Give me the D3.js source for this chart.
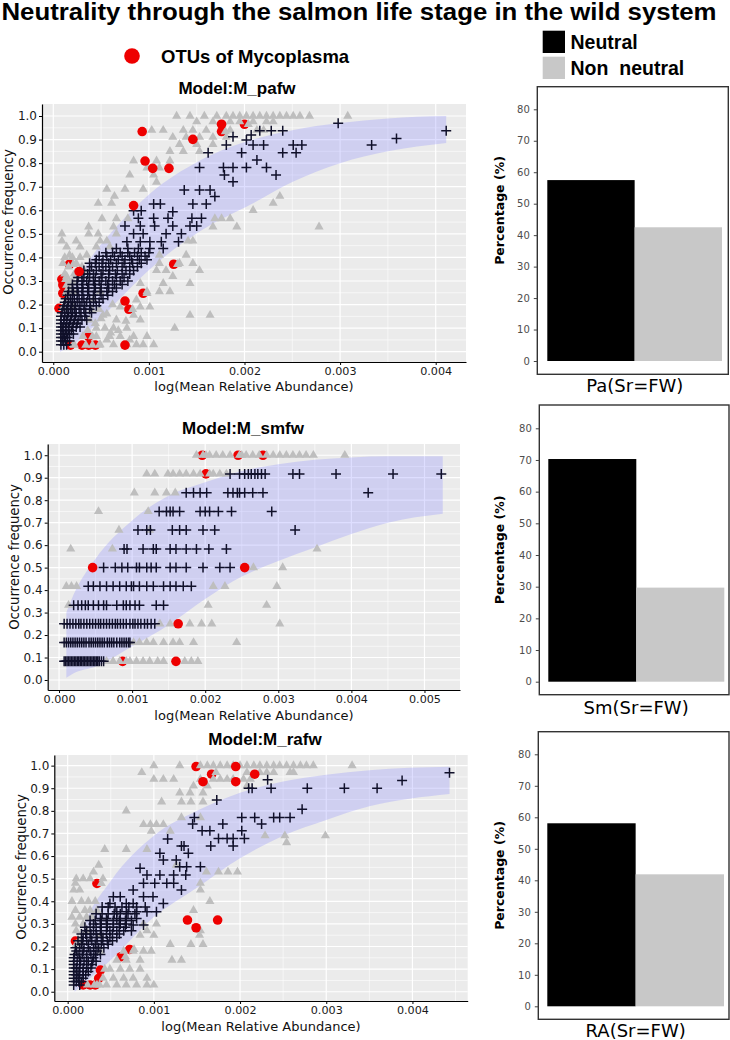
<!DOCTYPE html>
<html><head><meta charset="utf-8">
<script src="https://cdn.jsdelivr.net/npm/d3@7"></script>
<style>body{margin:0;background:#fff}svg{display:block}</style>
</head><body>
<script>
// ---------------- DATA ----------------
// x values are mean relative abundance in units of 1e-5, y = occurrence frequency
const X_UNIT = 1e-5;

// Model M_pafw
const pafwNonNeutral = [
 [129,1],[143,1],[158,1],[171,1],[181,1],[188,1],[195,1],[202,1],[209,1],[216,1],[223,1],[230,1],[237,1],[244,1],[251,1],[258,1],[268,1],[308,1],
 [150,.976],[167,.976],[185,.976],[195,.976],[209,.976],[223,.976],[230,.976],
 [103,.94],[115,.94],[136,.94],[146,.94],[160,.94],[185,.94],[213,.94],[220,.94],
 [125,.91],[139,.91],[153,.91],[167,.91],[181,.91],[132,.88],[150,.88],[167,.88],
 [122,.85],[136,.85],[153,.85],[84,.81],[108,.81],[122,.81],[98,.78],[111,.78],[80,.75],[105,.75],[108,.72],
 [56,.69],[75,.69],[94,.69],[64,.66],[237,.66],[47,.63],[61,.63],[230,.63],[209,.60],
 [51,.565],[66,.565],[78,.565],[169,.565],[176,.565],[185,.565],[37,.53],[63,.53],[167,.53],[192,.53],[278,.53],
 [9,.50],[37,.50],[47,.50],[66,.50],[9,.47],[24,.47],[49,.47],[56,.47],[141,.47],[146,.47],
 [14,.445],[28,.445],[45,.445],[59,.445],[17,.41],[35,.41],[111,.41],[139,.41],
 [10,.375],[24,.375],[111,.375],[132,.375],[146,.375],[31,.345],[108,.345],[118,.345],[153,.345],
 [14,.32],[24,.32],[125,.32],[17,.29],[91,.29],[115,.29],[143,.29],
 [14,.255],[49,.255],[98,.255],[111,.255],[122,.255],[42,.22],[87,.22],[21,.19],[91,.19],[101,.19],
 [52,.155],[84,.155],[143,.155],[164,.155],[38,.135],[66,.135],[91,.135],
 [45,.10],[63,.10],[77,.10],[127,.10],[31,.065],[45,.065],[59,.065],[70,.065],[84,.065],[98,.065],
 [21,.03],[49,.03],[63,.03],[77,.03],[87,.03],[94,.03],[105,.03],
 [12,.40],[20,.40],[28,.40],[16,.36],[30,.36],[12,.33],[22,.33],[20,.30],[16,.27],[22,.25],
 [40,.18],[48,.18],[56,.16],[62,.2],[70,.19],[76,.13],[54,.10],[60,.08],[68,.09],[80,.05],[56,.05],[36,.09],[44,.12],[50,.14],
 [204,.965],[180,.934],[130,.371],[21,.371],[13,.307],[14,.283],[14,.248],[10,.184],[98,.248],[83,.18],
 [22,.028],[34,.028],[41,.028],[48,.028],[41,.064]
];
const pafwNeutral = [
 [298,.969],[411,.938],[359,.905],[333,.877],[216,.938],[228,.938],[240,.938],[207,.919],[188,.912],[202,.898],
 [181,.877],[209,.877],[220,.877],[251,.877],[260,.877],[240,.844],[254,.844],[197,.844],[162,.844],
 [153,.782],[178,.782],[188,.782],[202,.782],[223,.782],[213,.813],[233,.75],[179,.75],[188,.721],
 [137,.686],[153,.686],[164,.686],[169,.658],[105,.627],[112,.627],[146,.627],[160,.627],
 [84,.598],[92,.598],[89,.566],[105,.566],[120,.566],[125,.594],[145,.566],[155,.566],
 [75,.533],[91,.533],[106,.533],[125,.533],[143,.533],[150,.533],[84,.5],[94,.5],[118,.5],[134,.5],
 [77,.467],[91,.467],[101,.467],[113,.467],[131,.467],[66,.438],[78,.438],[89,.438],[101,.438],[115,.438],
 [55,.42],[62,.42],[70,.42],[78,.42],[85,.42],[92,.42],[100,.42],
 [45,.39],[52,.39],[60,.39],[68,.39],[75,.39],[82,.39],[90,.39],[98,.39],
 [40,.36],[48,.36],[55,.36],[62,.36],[72,.36],[80,.36],[88,.36],
 [30,.33],[36,.33],[42,.33],[50,.33],[58,.33],[65,.33],[72,.33],[80,.33],
 [25,.30],[30,.30],[35,.30],[42,.30],[48,.30],[55,.30],[62,.30],[70,.30],[78,.30],
 [20,.27],[25,.27],[30,.27],[36,.27],[44,.27],[50,.27],[58,.27],[66,.27],
 [15,.24],[20,.24],[25,.24],[30,.24],[36,.24],[42,.24],[50,.24],[57,.24],
 [12,.21],[16,.21],[20,.21],[25,.21],[30,.21],[35,.21],[42,.21],[48,.21],
 [10,.18],[14,.18],[18,.18],[22,.18],[27,.18],[32,.18],[38,.18],
 [8,.15],[12,.15],[15,.15],[19,.15],[23,.15],[28,.15],[33,.15],
 [8,.12],[11,.12],[14,.12],[17,.12],[21,.12],[25,.12],
 [8,.09],[10,.09],[13,.09],[16,.09],[19,.09],[8,.06],[10,.06],[12,.06],[15,.06],[8,.03],[11,.03],[14,.03]
];
// dense part of the neutral cloud, read row by row
const pafwNeutralDenseRows = [
 [.045,[8,10,13,17]],[.075,[8,11,14,17,21]],[.105,[8,10,13,16,20,24,28]],
 [.135,[8,11,14,18,22,26,30,35]],[.165,[9,12,16,20,24,29,34,40]],[.195,[11,15,19,23,28,33,39,45]],
 [.225,[13,18,22,27,32,38,44,52]],[.255,[16,21,26,31,37,43,49,56,62]],[.285,[20,25,31,37,43,50,57,64,72]],
 [.315,[26,32,38,44,51,58,66,74]],[.345,[32,38,45,52,59,67,76,84]],[.375,[38,44,51,58,66,74,83,92]],
 [.405,[48,56,64,72,80,88,96]]
];
const pafwMycoTop = [[93,.934],[146,.901],[96,.809],[104,.778],[121,.778],[84,.62],[27,.34],[75,.215],[75,.028],[176,.965]];
const pafwMycoUnder = [[200,.965],[176,.934],[126,.371],[17,.371],[9,.307],[10,.283],[10,.248],[6,.184],[94,.248],[79,.18],[18,.028],[30,.028],[37,.028],[44,.028],[37,.064]];
const pafwBandX  = [7,17,38,66,101,153,209,250,300,350,411];
const pafwBandLo = [0.0,0.02,0.09,0.21,0.35,0.51,0.63,0.72,0.80,0.85,0.885];
const pafwBandHi = [0.14,0.24,0.39,0.53,0.67,0.81,0.90,0.94,0.97,0.99,1.0];

// Model M_smfw (rows of equal occurrence frequency: [y, [x...]])
const smfwNeutralRows = [
 [0.917,[234,247,254,259,263,268,272,277,282,320,329,379,457,523]],
 [0.833,[174,184,193,202,231,238,244,247,254,265,279,423]],
 [0.75,[137,147,152,156,165,193,200,206,218,236,291]],
 [0.667,[108,120,125,155,165,174,197,213,323]],
 [0.583,[89,93,115,129,133,152,160,174,188,205,229]],
 [0.5,[61,77,86,94,106,110,120,126,133,152,160,174,197,220,234]],
 [0.417,[40,47,56,65,74,83,92,99,102,110,120,129,143,152,160,170,181]],
 [0.333,[20,26,31,36,40,47,54,61,65,79,88,92,97,104,110,133,143]],
 [0.25,[7,11,15,19,23,27,30,34,38,42,46,50,54,57,61,65,69,73,77,80,84,88,92,97,101,104,108,112,117,121,126,131]],
 [0.167,[7,10,13,16,19,22,25,28,31,34,37,41,44,47,50,53,56,59,62,66,69,72,75,79,83,86,89,92,95,97]],
 [0.083,[7,9,11,13,15,17,19,21,23,25,27,29,31,33,35,37,39,41,43,45,47,49,51,53,55,58,61]]
];
const smfwNonNeutralRows = [
 [1.0,[188,197,201,206,215,224,234,247,250,256,265,274,284,293,302,311,320,329,338,348,391]],
 [0.917,[120,131,149,156,165,174,184,193,206,211,220,229]],
 [0.833,[103,131,147,159]],
 [0.75,[54,122]],
 [0.667,[82,124]],
 [0.583,[16,73,353]],
 [0.5,[266,306]],
 [0.417,[10,17,24,211,227,298]],
 [0.333,[13,204,284]],
 [0.25,[138,152,179,195,209,302]],
 [0.167,[102,110,120,129,143,156,165,184,243]],
 [0.083,[65,74,83,92,97,106,115,124,135,143,172,181,190]]
];
const smfwMycoTop = [[46,.5],[254,.5],[163,.25],[160,.083]];
const smfwMycoUnder = [[196,1.0],[245,1.0],[279,1.0],[201,.917],[87,.083]];
const smfwBandX  = [10,20,50,100,150,200,250,300,350,400,450,525];
const smfwBandLo = [0.01,0.03,0.06,0.15,0.245,0.36,0.46,0.53,0.59,0.65,0.70,0.74];
const smfwBandHi = [0.30,0.38,0.54,0.71,0.82,0.88,0.93,0.96,0.98,0.99,0.995,0.995];

// Model M_rafw
const rafwNonNeutralRows = [
 [1.0,[100,130,154,162,169,177,185,192,200,208,216,223,231,239,246,254,262,270,277,285,330]],
 [0.97,[86,172,208,223,231,239,258,262]],
 [0.94,[100,111,123,154,169,177,185,192,204,212]],
 [0.91,[146,162,208]],[0.88,[130,142,157]],[0.84,[109,132,143,157]],[0.80,[68]],[0.77,[132,154]],
 [0.74,[88,96,103,111]],[0.71,[97,119]],[0.69,[229,252,299]],[0.66,[254]],[0.63,[43,68,92]],
 [0.56,[36,126]],[0.53,[30,161,175,186,197]],[0.50,[10,18,26,41]],[0.479,[39]],[0.48,[9,154]],[0.45,[7,14,154]],
 [0.40,[5,16,24,32,165]],[0.36,[9,20,26,34,146]],[0.33,[5,14,22,28]],[0.30,[9,18,88,103]],
 [0.27,[10,22,92,154]],[0.25,[38,84,100,153]],[0.224,[14]],[0.21,[10,119,143,157]],[0.187,[77]],
 [0.18,[38,65,76,88,97]],[0.155,[67]],[0.14,[57,68,84,121,132]],[0.10,[43,49,61,72,84]],
 [0.06,[41,53,65,76,92]],[0.03,[23,31,34,37,45,57,68,80,92,100]]
];
const rafwNeutral = [
 [443,.969],[388,.934],[359,.9],[321,.9],[278,.9],[236,.9],[210,.9],[214,.9],[232,.937],[272,.807],
 [258,.771],[246,.771],[239,.771],[217,.771],[202,.771],[147,.771],[225,.742],[180,.742],[145,.742],[173,.848],
 [202,.712],[205,.678],[192,.678],[185,.678],[175,.678],[156,.712],[165,.712],[166,.645],[192,.645],[116,.676],
 [132,.645],[135,.645],[107,.612],[111,.583],[126,.583],[140,.612],[130,.553],[138,.553],[154,.553],[84,.546],
 [92,.516],[107,.516],[123,.516],[137,.516],[76,.45],[88,.48],[101,.48],[115,.48],[123,.48],[132,.45],
 [53,.42],[61,.42],[68,.39],[76,.39],[88,.42],[99,.42],[111,.39],[49,.39],[57,.354],[68,.354],[80,.354],
 [92,.354],[103,.354],[38,.324],[45,.324],[57,.324],[68,.324],[80,.324],[88,.295],[76,.295],
 [30,.3],[38,.3],[45,.3],[53,.3],[61,.3],[68,.3],[22,.27],[30,.27],[38,.27],[49,.27],[57,.27],[65,.27],[74,.27],
 [18,.24],[26,.24],[34,.24],[41,.24],[49,.24],[57,.24],[16,.21],[24,.21],[32,.21],[39,.21],[47,.21],
 [10,.18],[18,.18],[26,.18],[34,.18],[7,.15],[14,.15],[22,.15],[30,.15],[7,.12],[14,.12],[22,.12],[28,.12],
 [7,.09],[12,.09],[18,.09],[24,.09],[7,.06],[12,.06],[18,.06],[7,.03],[14,.03]
];
const rafwNeutralDenseRows = [
 [.045,[7,10,13,16]],[.075,[7,10,14,18,21]],[.105,[7,10,14,18,22,27]],[.135,[7,11,15,19,24,29,33]],
 [.165,[8,12,17,22,27,32,38]],[.195,[9,14,19,24,30,36,42]],[.225,[12,17,22,28,34,40,46,52]],
 [.255,[16,21,27,33,39,45,52,60]],[.285,[20,26,33,39,46,53,60,67]],[.315,[26,32,39,46,53,60,67,74]],
 [.345,[33,40,47,54,61,70,78]],[.375,[40,47,55,63,71,80,90]]
];
const rafwMycoTop = [[195,.996],[157,.929],[195,.929],[217,.962],[139,.317],[149,.283],[174,.317]];
const rafwMycoUnder = [[149,.996],[167,.962],[34,.479],[9,.224],[72,.187],[62,.155],[38,.096],[36,.059],[18,.03],[26,.03],[32,.03]];
const rafwBandX  = [8,20,50,100,150,200,250,300,350,443];
const rafwBandLo = [0.0,0.04,0.14,0.33,0.46,0.59,0.69,0.76,0.82,0.875];
const rafwBandHi = [0.16,0.30,0.49,0.69,0.80,0.88,0.93,0.96,0.98,0.995];

const occTicks = [0,0.1,0.2,0.3,0.4,0.5,0.6,0.7,0.8,0.9,1.0];
const abundTicks4 = [0,0.001,0.002,0.003,0.004];
const abundTicks5 = [0,0.001,0.002,0.003,0.004,0.005];

// bar charts
const barGroups = ["Pa(Sr=FW)","Sm(Sr=FW)","RA(Sr=FW)"];
const barCategories = ["Neutral","Non  neutral"];
const neutralPct = [57.5, 70.3, 58.1];
const nonNeutralPct = [42.5, 29.7, 41.9];
const pctTicks = [0,10,20,30,40,50,60,70,80];

// ---------------- DRAW ----------------
const SANS = "'DejaVu Sans', sans-serif";
const BOLD = "'Liberation Sans', Arial, sans-serif";
const svg = d3.select("body").append("svg").attr("width",730).attr("height",1040);

function rowsToPts(rows){ const out=[]; rows.forEach(([yy,xs])=>xs.forEach(v=>out.push([v,yy]))); return out; }
function band(xs,lo,hi){ return xs.map((v,i)=>({x:v,lo:lo[i],hi:hi[i]})); }

const CROSS = "M-5,0H5M0,-5V5";
const triangle = d3.symbol().type(d3.symbolTriangle).size(36);

function scatter(p, idx){
  const g = svg.append("g");
  const x = d3.scaleLinear().domain(p.xDom).range([p.l,p.r]);
  const y = d3.scaleLinear().domain(p.yDom).range([p.b,p.t]);
  g.append("rect").attr("x",p.l).attr("y",p.t).attr("width",p.r-p.l).attr("height",p.b-p.t).attr("fill","#EBEBEB");
  const xMinor = d3.range(0.0005, p.xDom[1], 0.001);
  const yMinor = d3.range(0.05, 1.0, 0.1);
  g.selectAll(".xm").data(xMinor).join("line").attr("x1",d=>x(d)).attr("x2",d=>x(d)).attr("y1",p.t).attr("y2",p.b).attr("stroke","#fff").attr("stroke-width",0.6);
  g.selectAll(".ym").data(yMinor).join("line").attr("y1",d=>y(d)).attr("y2",d=>y(d)).attr("x1",p.l).attr("x2",p.r).attr("stroke","#fff").attr("stroke-width",0.6);
  g.selectAll(".xM").data(p.xTicks).join("line").attr("x1",d=>x(d)).attr("x2",d=>x(d)).attr("y1",p.t).attr("y2",p.b).attr("stroke","#fff").attr("stroke-width",1.2);
  g.selectAll(".yM").data(occTicks).join("line").attr("y1",d=>y(d)).attr("y2",d=>y(d)).attr("x1",p.l).attr("x2",p.r).attr("stroke","#fff").attr("stroke-width",1.2);

  const cid = "clip"+idx;
  svg.append("clipPath").attr("id",cid).append("rect").attr("x",p.l).attr("y",p.t).attr("width",p.r-p.l).attr("height",p.b-p.t);
  const pg = g.append("g").attr("clip-path",`url(#${cid})`);
  const area = d3.area().x(d=>x(d.x*X_UNIT)).y0(d=>y(d.lo)).y1(d=>y(d.hi)).curve(d3.curveMonotoneX);
  pg.append("path").datum(p.band).attr("d",area).attr("fill","#7F7FFF").attr("fill-opacity",0.26);

  pg.selectAll(".mu").data(p.mycoUnder).join("circle").attr("cx",d=>x(d[0]*X_UNIT)).attr("cy",d=>y(d[1])).attr("r",4.8).attr("fill","#EE0000");
  pg.selectAll(".tri").data(p.nonNeutral).join("path").attr("d",triangle).attr("transform",d=>`translate(${x(d[0]*X_UNIT)},${y(d[1])})`).attr("fill","#BEBEBE");
  pg.selectAll(".cr").data(p.neutral).join("path").attr("d",CROSS).attr("transform",d=>`translate(${x(d[0]*X_UNIT)},${y(d[1])})`).attr("stroke","#10102a").attr("stroke-width",1.5).attr("fill","none");
  pg.selectAll(".mt").data(p.mycoTop).join("circle").attr("cx",d=>x(d[0]*X_UNIT)).attr("cy",d=>y(d[1])).attr("r",4.8).attr("fill","#EE0000");

  const ya = g.append("g").attr("transform",`translate(${p.l},0)`)
    .call(d3.axisLeft(y).tickValues(occTicks).tickFormat(d3.format(".1f")).tickSize(3).tickSizeOuter(0).tickPadding(2));
  ya.select(".domain").attr("stroke","#000").attr("stroke-width",1.2);
  ya.selectAll(".tick line").attr("stroke","#000");
  ya.selectAll("text").attr("font-family",SANS).attr("font-size",12).attr("fill","#1a1a1a");
  const xa = g.append("g").attr("transform",`translate(0,${p.b})`)
    .call(d3.axisBottom(x).tickValues(p.xTicks).tickFormat(d3.format(".3f")).tickSize(3).tickSizeOuter(0).tickPadding(2.5));
  xa.select(".domain").attr("stroke","#000").attr("stroke-width",1.2);
  xa.selectAll(".tick line").attr("stroke","#000");
  xa.selectAll("text").attr("font-family",SANS).attr("font-size",11.2).attr("fill","#1a1a1a");

  svg.append("text").attr("x",p.titleX).attr("y",p.titleY).attr("text-anchor","middle")
    .attr("font-family",BOLD).attr("font-weight","bold").attr("font-size",17).text(p.title);
  svg.append("text").attr("x",p.xtX).attr("y",p.xtY).attr("text-anchor","middle")
    .attr("font-family",SANS).attr("font-size",13).attr("fill","#111").text("log(Mean Relative Abundance)");
  svg.append("text").attr("transform",`translate(${p.ytX},${p.ytY}) rotate(-90)`).attr("text-anchor","middle")
    .attr("font-family",SANS).attr("font-size",13.2).attr("fill","#111").text("Occurrence frequency");
}

scatter({l:42,r:466,t:104,b:362, xDom:[-0.000118,0.004317], yDom:[-0.0437,1.051], xTicks:abundTicks4,
  band:band(pafwBandX,pafwBandLo,pafwBandHi), nonNeutral:pafwNonNeutral, neutral:pafwNeutral.concat(rowsToPts(pafwNeutralDenseRows)),
  mycoTop:pafwMycoTop, mycoUnder:pafwMycoUnder, title:"Model:M_pafw", titleX:237, titleY:94,
  xtX:254, xtY:391, ytX:12.5, ytY:222}, 1);
scatter({l:47.7,r:460,t:444,b:690, xDom:[-0.000155,0.005486], yDom:[-0.0445,1.050], xTicks:abundTicks5,
  band:band(smfwBandX,smfwBandLo,smfwBandHi), nonNeutral:rowsToPts(smfwNonNeutralRows), neutral:rowsToPts(smfwNeutralRows),
  mycoTop:smfwMycoTop, mycoUnder:smfwMycoUnder, title:"Model:M_smfw", titleX:243, titleY:434,
  xtX:254, xtY:719.5, ytX:19, ytY:557}, 2);
scatter({l:54.3,r:467.7,t:755,b:1001, xDom:[-0.000155,0.004641], yDom:[-0.041,1.047], xTicks:abundTicks4,
  band:band(rafwBandX,rafwBandLo,rafwBandHi), nonNeutral:rowsToPts(rafwNonNeutralRows), neutral:rafwNeutral.concat(rowsToPts(rafwNeutralDenseRows)),
  mycoTop:rafwMycoTop, mycoUnder:rafwMycoUnder, title:"Model:M_rafw", titleX:265, titleY:745,
  xtX:261, xtY:1031, ytX:25.5, ytY:867}, 3);

// bar panels
const barBoxes = [
  {l:537.3,r:728.3,t:86.7,b:374.3, y0:361, y80:109.3, bl:547.3, br:722, labY:391.5},
  {l:539.3,r:729,t:405,b:694.7, y0:681.7, y80:428.3, bl:548.3, br:724.3, labY:714},
  {l:538.3,r:729,t:731.7,b:1019.3, y0:1006.3, y80:754.3, bl:547.3, br:724, labY:1037}
];
const barColor = d3.scaleOrdinal().domain(barCategories).range(["#000000","#C8C8C8"]);
barBoxes.forEach((bx,i)=>{
  const g = svg.append("g");
  const y = d3.scaleLinear().domain([0,80]).range([bx.y0,bx.y80]);
  const x = d3.scaleBand().domain(barCategories).range([bx.bl,bx.br]).padding(0);
  g.append("rect").attr("x",bx.l).attr("y",bx.t).attr("width",bx.r-bx.l).attr("height",bx.b-bx.t)
    .attr("fill","#fff").attr("stroke","#333").attr("stroke-width",1.4);
  const vals = [neutralPct[i], nonNeutralPct[i]];
  g.selectAll(".bar").data(barCategories).join("rect")
    .attr("x",d=>x(d)).attr("width",x.bandwidth())
    .attr("y",(d,j)=>y(vals[j])).attr("height",(d,j)=>y(0)-y(vals[j]))
    .attr("fill",d=>barColor(d));
  const ax = g.append("g").attr("transform",`translate(${bx.l},0)`)
    .call(d3.axisLeft(y).tickValues(pctTicks).tickSize(3.5).tickPadding(4));
  ax.select(".domain").remove();
  ax.selectAll(".tick line").attr("stroke","#444");
  ax.selectAll("text").attr("font-family",SANS).attr("font-size",10).attr("fill","#4D4D4D");
  svg.append("text").attr("transform",`translate(503.5,${(bx.t+bx.b)/2 - (i===0?20:0)}) rotate(-90)`)
    .attr("text-anchor","middle").attr("font-family",SANS).attr("font-weight","bold").attr("font-size",12.5)
    .text("Percentage (%)");
  svg.append("text").attr("x",(bx.l+bx.r)/2+2).attr("y",bx.labY).attr("text-anchor","middle")
    .attr("font-family",SANS).attr("font-size",18).text(barGroups[i]);
});

// title and legends
svg.append("text").attr("x",1.5).attr("y",19.5).attr("font-family",BOLD).attr("font-weight","bold")
  .attr("font-size",23.5).attr("textLength",715).attr("lengthAdjust","spacingAndGlyphs")
  .text("Neutrality through the salmon life stage in the wild system");
svg.append("circle").attr("cx",132).attr("cy",56).attr("r",7.8).attr("fill","#EE0000");
svg.append("text").attr("x",161).attr("y",62.5).attr("font-family",BOLD).attr("font-weight","bold")
  .attr("font-size",18.5).text("OTUs of Mycoplasma");
const lg = svg.append("g");
lg.selectAll("rect").data(barCategories).join("rect")
  .attr("x",542.7).attr("y",(d,i)=>30.7+i*26).attr("width",22.3).attr("height",22.3).attr("fill",d=>barColor(d));
lg.selectAll("text").data(barCategories).join("text")
  .attr("x",570.5).attr("y",(d,i)=>49+i*26).attr("font-family",BOLD).attr("font-weight","bold")
  .attr("font-size",19.5).style("white-space","pre").attr("xml:space","preserve").text(d=>d);
</script>
</body></html>
